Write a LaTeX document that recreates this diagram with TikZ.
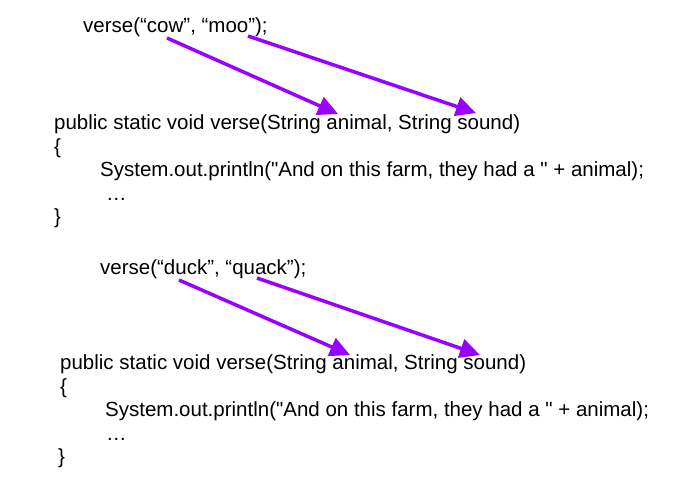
\documentclass[tikz,border=0pt]{standalone}
\usepackage{fontspec}
\setmainfont{Liberation Sans}
\usetikzlibrary{arrows.meta}
\definecolor{argpurple}{HTML}{9900FF}
\begin{document}
\begin{tikzpicture}[x=1pt, y=-1pt, font=\fontsize{20.5}{24}\selectfont,
			code/.style={anchor=base west, inner sep=0pt},
			pass/.style={draw=argpurple, line width=3.5pt,
				-{Triangle[length=20pt,width=19pt]}}]
			\useasboundingbox (0,0) rectangle (681,481);
			\node[code] (callA) at (83,33) {verse(“cow”, “moo”);};
			\node[code] (headA) at (54,130) {public static void verse(String animal, String sound)};
			\node[code] (openA) at (54,153.5) {\{};
			\node[code] (printA) at (100,177) {System.out.println(\textquotedbl And on this farm, they had a \textquotedbl{} + animal);};
			\node[code] (dotsA) at (106,200.5) {…};
			\node[code] (closeA) at (54,224) {\}};
			\node[code] (callB) at (100,275) {verse(“duck”, “quack”);};
			\node[code] (headB) at (60,370) {public static void verse(String animal, String sound)};
			\node[code] (openB) at (60,393.5) {\{};
			\node[code] (printB) at (105,417) {System.out.println(\textquotedbl And on this farm, they had a \textquotedbl{} + animal);};
			\node[code] (dotsB) at (106,440.5) {…};
			\node[code] (closeB) at (58,464) {\}};
			\path
			(167,38) coordinate (cowA)
			(248,36) coordinate (mooA)
			(338,114) coordinate (animalA)
			(476,113) coordinate (soundA)
			(179,280) coordinate (duckB)
			(257,278) coordinate (quackB)
			(350,355) coordinate (animalB)
			(480,355) coordinate (soundB)
			;
			\foreach \s/\t in {cowA/animalA,mooA/soundA,duckB/animalB,quackB/soundB}
			\draw[pass] (\s) -- (\t);
\end{tikzpicture}
\end{document}
